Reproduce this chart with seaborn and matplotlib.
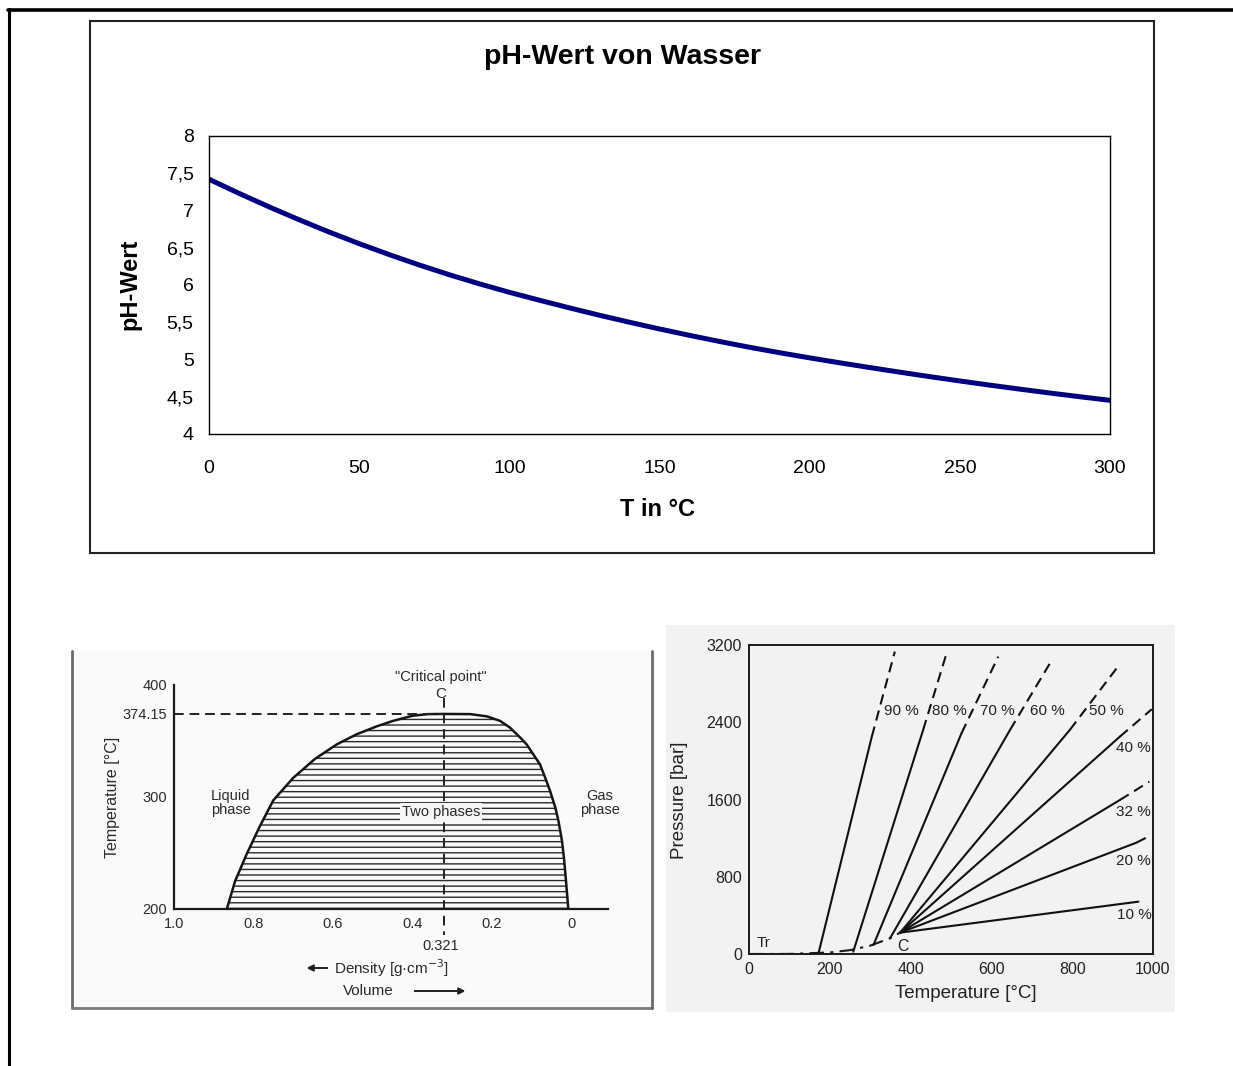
import numpy as np
import pandas as pd
import matplotlib
matplotlib.use("Agg")
import matplotlib.pyplot as plt
from matplotlib.patches import Rectangle
from matplotlib.lines import Line2D
import seaborn as sns

# ---------------------------------------------------------------- data
# pH of water versus temperature
temp_c = [0, 10, 20, 30, 40, 50, 60, 70, 80, 90, 100, 110, 120, 130, 140, 150,
          160, 170, 180, 190, 200, 210, 220, 230, 240, 250, 260, 270, 280, 290, 300]
ph_value = [7.420, 7.230, 7.049, 6.876, 6.711, 6.555, 6.408, 6.269, 6.138, 6.016,
            5.902, 5.796, 5.693, 5.594, 5.500, 5.410, 5.324, 5.242, 5.164, 5.091,
            5.022, 4.956, 4.892, 4.830, 4.770, 4.712, 4.656, 4.602, 4.550, 4.500,
            4.452]
ph_ticks = [4, 4.5, 5, 5.5, 6, 6.5, 7, 7.5, 8]
ph_tick_labels = ["4", "4,5", "5", "5,5", "6", "6,5", "7", "7,5", "8"]
t_ticks = [0, 50, 100, 150, 200, 250, 300]

# coexistence dome (density in g/cm3, temperature in degC)
liquid_density = [0.867, 0.846, 0.817, 0.785, 0.750, 0.700, 0.645, 0.590, 0.540,
                  0.490, 0.448, 0.400, 0.360, 0.321]
liquid_temp = [200, 225, 249, 273, 297, 317, 334, 347, 356, 363, 368, 372.5,
               374, 374.15]
vapour_density = [0.321, 0.254, 0.212, 0.179, 0.154, 0.128, 0.112, 0.095, 0.078,
                  0.065, 0.053, 0.040, 0.032, 0.023, 0.018, 0.013, 0.007]
vapour_temp = [374.15, 374, 372, 368, 362, 353, 347, 338, 329, 317, 305.5, 291,
               279, 261, 246, 226, 200]
crit_density = 0.321
crit_temp = 374.15
dome_t_ticks = [200, 300, 374.15, 400]
dome_t_labels = ["200", "300", "374.15", "400"]
dome_d_ticks = [1.0, 0.8, 0.6, 0.4, 0.2, 0.0]
dome_d_labels = ["1.0", "0.8", "0.6", "0.4", "0.2", "0"]

# vapour pressure curve from triple point to critical point
vp_temp = [0, 100, 200, 250, 300, 350, 374]
vp_pres = [0, 1, 16, 40, 86, 165, 221]

# isochores: (label, solid T, solid P, dashed T, dashed P, label T, label P)
iso_90 = ("90 %", [172, 304], [7, 2251], [304, 361], [2251, 3132], 378, 2521)
iso_80 = ("80 %", [258, 431], [24, 2320], [431, 489], [2320, 3114], 497, 2521)
iso_70 = ("70 %", [308, 526], [93, 2286], [526, 617], [2286, 3080], 615, 2521)
iso_60 = ("60 %", [349, 646], [162, 2320], [646, 745], [2320, 3011], 739, 2521)
iso_50 = ("50 %", [374, 794], [221, 2320], [794, 910], [2320, 2959], 885, 2521)
iso_40 = ("40 %", [374, 918], [221, 2251], [918, 997], [2251, 2535], 951, 2131)
iso_32 = ("32 %", [374, 918], [221, 1595], [918, 991], [1595, 1785], 951, 1474)
iso_20 = ("20 %", [374, 959], [221, 1153], [959, 988], [1153, 1215], 951, 967)
iso_10 = ("10 %", [374, 964], [221, 542], [], [], 955, 404)
isochores = [iso_90, iso_80, iso_70, iso_60, iso_50, iso_40, iso_32, iso_20, iso_10]
p_ticks = [0, 800, 1600, 2400, 3200]
tp_ticks = [0, 200, 400, 600, 800, 1000]

# ---------------------------------------------------------------- style
sns.set_style("white")
plt.rcParams["font.family"] = ["Liberation Sans", "DejaVu Sans"]
plt.rcParams["text.color"] = "black"
plt.rcParams["hatch.linewidth"] = 1.0
plt.rcParams["hatch.color"] = "#2a2a2a"

W, H = 1233, 1066
fig = plt.figure(figsize=(W / 100, H / 100), dpi=100)
fig.patch.set_facecolor("white")


def fx(x):
    return x / W


def fy(y):
    return 1 - y / H


def rect(l, t, r, b):
    return [l / W, 1 - b / H, (r - l) / W, (b - t) / H]


# page frame
fig.add_artist(Line2D([fx(8), 1.0], [fy(10), fy(10)], color="black", lw=2.6,
                      transform=fig.transFigure))
fig.add_artist(Line2D([fx(9), fx(9)], [fy(9), 0.0], color="black", lw=2.2,
                      transform=fig.transFigure))

# ---------------------------------------------------------------- top chart
fig.add_artist(Rectangle((fx(90), fy(553)), (1154 - 90) / W, (553 - 21) / H,
                         transform=fig.transFigure, fill=False,
                         edgecolor="#222222", lw=1.5))

ax1 = fig.add_axes(rect(209, 136, 1110, 434))
df_ph = pd.DataFrame({"T": temp_c, "pH": ph_value})
sns.lineplot(data=df_ph, x="T", y="pH", ax=ax1, color="#000080", linewidth=3.6)
ax1.set_xlim(0, 300)
ax1.set_ylim(4, 8)
ax1.set_xticks(t_ticks)
ax1.set_xticklabels([str(t) for t in t_ticks])
ax1.set_yticks(ph_ticks)
ax1.set_yticklabels(ph_tick_labels)
ax1.set_xlabel("")
ax1.set_ylabel("")
for s in ax1.spines.values():
    s.set_color("black")
    s.set_linewidth(1.0)
ax1.tick_params(axis="both", direction="out", length=5, width=1, colors="black",
                labelcolor="black", labelsize=14)
ax1.tick_params(axis="x", pad=14)
ax1.tick_params(axis="y", pad=6)
ax1.grid(False)

fig.text(fx(622), fy(57), "pH-Wert von Wasser", fontsize=20.5, fontweight="bold",
         color="black", ha="center", va="center")
fig.text(fx(657), fy(510), "T in °C", fontsize=17, fontweight="bold",
         color="black", ha="center", va="center")
fig.text(fx(130), fy(284), "pH-Wert", fontsize=17, fontweight="bold",
         color="black", rotation=90, ha="center", va="center")

# ---------------------------------------------------------------- density diagram
fig.add_artist(Rectangle((fx(72), fy(1008)), (652 - 72) / W, (1008 - 651) / H,
                         transform=fig.transFigure, facecolor="#fafafa",
                         edgecolor="none", zorder=0))
for xs, ys, c in [([72, 72], [651, 1008], "#6a6a6a"),
                  ([72, 652], [1008, 1008], "#7a7a7a"),
                  ([652, 652], [651, 1008], "#6a6a6a")]:
    fig.add_artist(Line2D([fx(v) for v in xs], [fy(v) for v in ys], color=c,
                          lw=2.0, transform=fig.transFigure))

ax2 = fig.add_axes(rect(174, 685, 608, 909))
ax2.set_facecolor("none")
dome_d = liquid_density + vapour_density[1:]
dome_t = liquid_temp + vapour_temp[1:]
ax2.fill(dome_d, dome_t, facecolor="none", edgecolor="#2a2a2a", hatch="---",
         linewidth=0)
df_liq = pd.DataFrame({"d": liquid_density, "T": liquid_temp})
df_vap = pd.DataFrame({"d": vapour_density, "T": vapour_temp})
sns.lineplot(data=df_liq, x="d", y="T", ax=ax2, sort=False, estimator=None,
             color="#151515", linewidth=1.8)
sns.lineplot(data=df_vap, x="d", y="T", ax=ax2, sort=False, estimator=None,
             color="#151515", linewidth=1.8)
ax2.plot([1.0, crit_density], [crit_temp, crit_temp], color="#222222",
         lw=1.4, ls=(0, (5, 3)), clip_on=False)
ax2.plot([crit_density, crit_density], [388, 177], color="#222222",
         lw=1.4, ls=(0, (5, 3)), clip_on=False)
ax2.set_xlim(1.0, -0.093)
ax2.set_ylim(200, 400)
ax2.set_xticks(dome_d_ticks)
ax2.set_xticklabels(dome_d_labels)
ax2.set_yticks(dome_t_ticks)
ax2.set_yticklabels(dome_t_labels)
ax2.set_xlabel("")
ax2.set_ylabel("")
for side in ["top", "right"]:
    ax2.spines[side].set_visible(False)
for side in ["left", "bottom"]:
    ax2.spines[side].set_color("#1a1a1a")
    ax2.spines[side].set_linewidth(1.6)
ax2.tick_params(axis="both", direction="in", length=8, width=1.4,
                colors="#1a1a1a", labelsize=10.5, labelcolor="#2a2a2a")
ax2.tick_params(axis="x", pad=6)
ax2.tick_params(axis="y", pad=5)
ax2.grid(False)

small = dict(fontsize=10.5, color="#2a2a2a", ha="center", va="center")
fig.text(fx(441), fy(677), "\"Critical point\"", **small)
fig.text(fx(441), fy(694), "C", fontsize=11, color="#2a2a2a", ha="center", va="center")
fig.text(fx(231), fy(803), "Liquid\nphase", linespacing=1.0, **small)
fig.text(fx(600), fy(803), "Gas\nphase", linespacing=1.0, **small)
fig.text(fx(441), fy(812), "Two phases",
         bbox=dict(facecolor="#f6f6f6", edgecolor="none", pad=1.5), **small)
fig.text(fx(441), fy(946), "0.321", **small)
fig.text(fx(334), fy(968), "Density [g·cm$^{-3}$]", fontsize=11,
         color="#2a2a2a", ha="left", va="center")
fig.text(fx(368), fy(991), "Volume", fontsize=11, color="#2a2a2a",
         ha="center", va="center")
fig.text(fx(113), fy(797), "Temperature [°C]", fontsize=11.5, color="#2a2a2a",
         rotation=90, ha="center", va="center")
arrow = dict(arrowstyle="-|>", color="#222222", lw=1.3, mutation_scale=9)
fig.add_artist(plt.annotate("", xy=(fx(304), fy(968)), xytext=(fx(330), fy(968)),
                            xycoords="figure fraction", arrowprops=arrow))
fig.add_artist(plt.annotate("", xy=(fx(468), fy(991)), xytext=(fx(412), fy(991)),
                            xycoords="figure fraction", arrowprops=arrow))

# ---------------------------------------------------------------- isochore diagram
fig.add_artist(Rectangle((fx(666), fy(1012)), (1175 - 666) / W, (1012 - 625) / H,
                         transform=fig.transFigure, facecolor="#f2f2f2",
                         edgecolor="none", zorder=0))
ax3 = fig.add_axes(rect(749, 645, 1153, 954))
ax3.set_facecolor("none")
sns.lineplot(x=vp_temp, y=vp_pres, ax=ax3, color="#1a1a1a", linewidth=1.5,
             linestyle=(0, (7, 3, 1.5, 3)))
for lab, ts, ps, td, pd_, lt, lp in isochores:
    sns.lineplot(x=ts, y=ps, ax=ax3, color="#111111", linewidth=1.5)
    if td:
        sns.lineplot(x=td, y=pd_, ax=ax3, color="#111111", linewidth=1.5,
                     linestyle=(0, (5, 3)))
    ax3.text(lt, lp, lab, fontsize=11, color="#222222", ha="center", va="center")
ax3.text(35, 117, "Tr", fontsize=11, color="#222222", ha="center", va="center")
ax3.text(380, 76, "C", fontsize=11.5, color="#222222", ha="center", va="center")
ax3.set_xlim(0, 1000)
ax3.set_ylim(0, 3200)
ax3.set_xticks(tp_ticks)
ax3.set_yticks(p_ticks)
ax3.set_xlabel("")
ax3.set_ylabel("")
for s in ax3.spines.values():
    s.set_color("#1a1a1a")
    s.set_linewidth(1.4)
ax3.tick_params(axis="both", direction="in", length=4, width=1.2,
                colors="#1a1a1a", labelsize=11.5, labelcolor="#222222")
ax3.tick_params(axis="x", pad=6)
ax3.tick_params(axis="y", pad=5)
ax3.grid(False)
fig.text(fx(966), fy(994), "Temperature [°C]", fontsize=13.5, color="#222222",
         ha="center", va="center")
fig.text(fx(680), fy(800), "Pressure [bar]", fontsize=13.5, color="#222222",
         rotation=90, ha="center", va="center")

fig.savefig("out.png", dpi=100, facecolor="white")
